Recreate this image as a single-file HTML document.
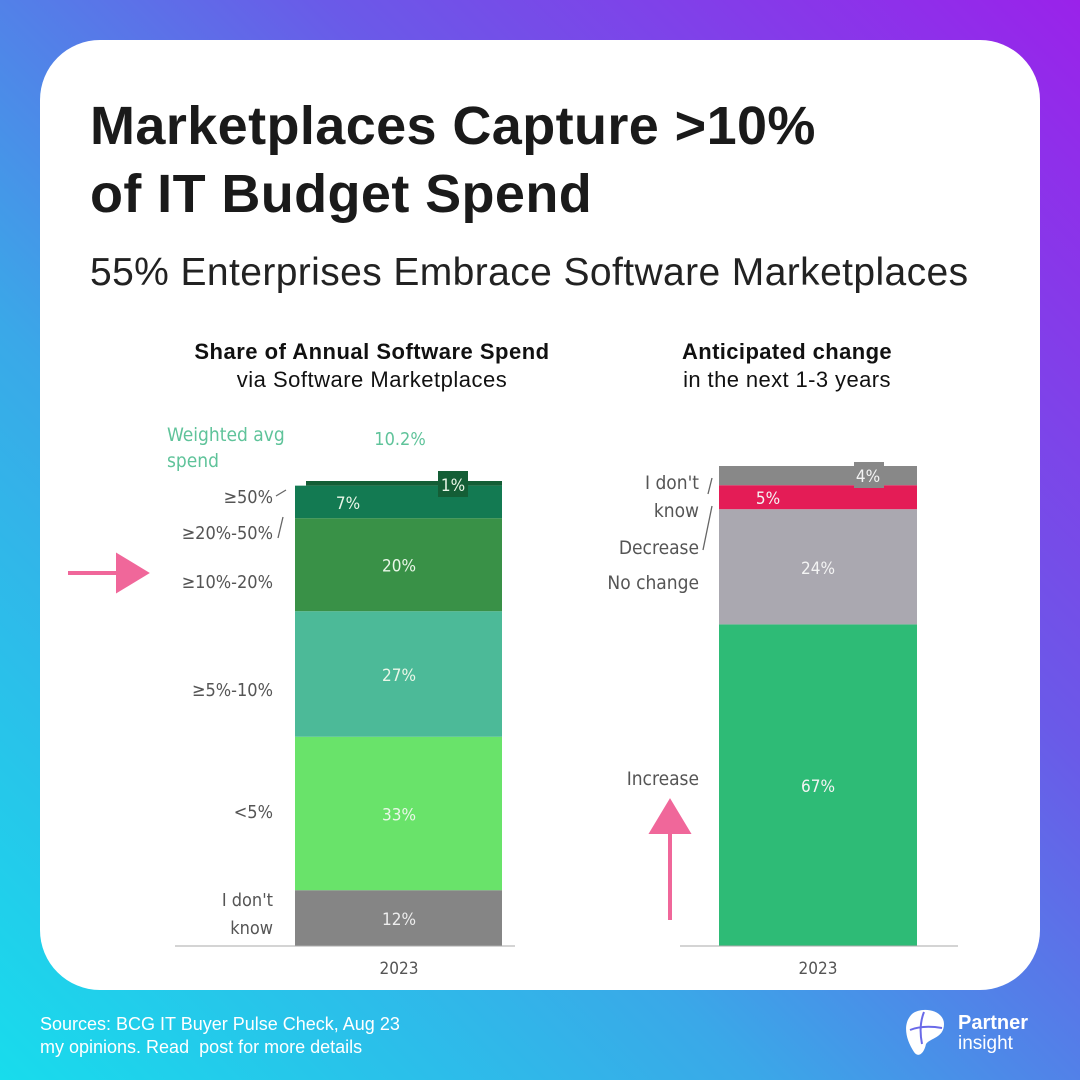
<!DOCTYPE html>
<html><head><meta charset="utf-8"><style>
body{margin:0;width:1080px;height:1080px;overflow:hidden;font-family:"Liberation Sans",sans-serif;}
#bg{position:absolute;left:0;top:0;width:1080px;height:1080px;background:linear-gradient(45deg,#18dcec 0%,#3aa8e8 35%,#6a5ae8 65%,#9a22ea 100%);}
#card{position:absolute;left:40px;top:40px;width:1000px;height:950px;background:#fff;border-radius:60px;}
.t{position:absolute;white-space:nowrap;}
</style></head><body>
<div id="bg"></div>
<div id="card"></div>
<div class="t" style="left:90px;top:92px;font-size:54px;letter-spacing:0.4px;font-weight:bold;line-height:68px;color:#1a1a1a;">Marketplaces Capture &gt;10%<br>of IT Budget Spend</div>
<div class="t" style="left:90px;top:251px;font-size:39px;letter-spacing:0.4px;color:#222;">55% Enterprises Embrace Software Marketplaces</div>
<div class="t" style="left:372px;top:338px;transform:translateX(-50%);text-align:center;font-size:22px;letter-spacing:0.5px;line-height:28px;color:#111;"><b>Share of Annual Software Spend</b><br>via Software Marketplaces</div>
<div class="t" style="left:787px;top:338px;transform:translateX(-50%);text-align:center;font-size:22px;letter-spacing:0.4px;line-height:28px;color:#111;"><b>Anticipated change</b><br>in the next 1-3 years</div>
<svg id="chart" width="1080" height="1080" style="position:absolute;left:0;top:0"></svg>
<div class="t" style="left:40px;top:1013px;font-size:18px;line-height:23px;color:#fff;">Sources: BCG IT Buyer Pulse Check, Aug 23<br>my opinions. Read&nbsp; post for more details</div>
<svg style="position:absolute;left:904px;top:1008px" width="44" height="52"><path d="M8 6 C18 -2 40 2 40 16 C40 30 26 30 22 36 C20 46 14 50 10 44 C2 32 -2 16 8 6Z" fill="#fff"/><path d="M6 22 C16 18 26 18 38 20 M20 4 C16 14 16 26 18 36" stroke="#6a6ae8" stroke-width="2" fill="none"/></svg>
<div class="t" style="left:958px;top:1013px;font-size:20px;line-height:20px;color:#fff;font-weight:bold;">Partner<br><span style="font-weight:normal;font-size:19px;">insight</span></div>
<script>
const leftCats=["I don't know","<5%","≥5%-10%","≥10%-20%","≥20%-50%","≥50%"];
const leftVals=[12,33,27,20,7,1];
const leftColors=["#858585","#69e36a","#4cba98","#399147","#137a52","#145e36"];
const rightCats=["Increase","No change","Decrease","I don't know"];
const rightVals=[67,24,5,4];
const rightColors=["#2ebb76","#aaa8b0","#e41c56","#888888"];
const yearLabel="2023";
const svg=document.getElementById('chart');
const NS="http://www.w3.org/2000/svg";
const FF='DejaVu Sans Condensed, Liberation Sans, sans-serif';
function mk(tag,attrs,text){const e=document.createElementNS(NS,tag);for(const k in attrs)e.setAttribute(k,attrs[k]);if(text!==undefined)e.textContent=text;svg.appendChild(e);return e;}
const base=946;
const yL=v=>v*4.65, yR=v=>v*4.8;
let acc=0;
leftVals.forEach((v,i)=>{
  const h=yL(v),y=base-yL(acc)-h;
  const x=i===5?306:295,w=i===5?196:207;
  const r=mk('rect',{x:x,y:y,width:w,height:h,fill:leftColors[i]});
  
  
  const tx=i===4?348:(i===5?453:399), ty=i===4?y+h/2+7:(i===5?y+10:y+h/2+7);
  if(i===5){const b=mk('rect',{x:438,y:y-10,width:30,height:26,fill:"#145e36"});}
  const t=mk('text',{x:tx,y:ty,'text-anchor':'middle','font-size':17,fill:i===0?'#eee':'#eaf7e8','font-family':FF},v+'%');
  
  
  acc+=v;
});
const lc=[["I don't",900],["know",928],["<5%",812],["≥5%-10%",690],["≥10%-20%",582],["≥20%-50%",533],["≥50%",497]];
lc.forEach(([s,y])=>{const t=mk('text',{x:273,y:y+6,'text-anchor':'end','font-size':18,fill:'#555','font-family':FF},s);});
mk('path',{d:"M276 496 L286 490 M278 538 L283 517",stroke:'#666','stroke-width':1.3,fill:'none'});
let t1=mk('text',{x:167,y:441,'font-size':19,fill:'#5fc39a','font-family':FF},'Weighted avg');
mk('text',{x:167,y:467,'font-size':19,fill:'#5fc39a','font-family':FF},'spend');
let t2=mk('text',{x:400,y:445,'text-anchor':'middle','font-size':18,fill:'#5fc39a','font-family':FF},'10.2%');
mk('line',{x1:175,x2:515,y1:946,y2:946,stroke:'#aaa','stroke-width':1});
mk('text',{x:399,y:974,'text-anchor':'middle','font-size':17,fill:'#555','font-family':FF},yearLabel);
acc=0;
rightVals.forEach((v,i)=>{
  const h=yR(v),y=base-yR(acc)-h;
  const r=mk('rect',{x:719,y:y,width:198,height:h,fill:rightColors[i]});
  
  
  let tx=818,ty=y+h/2+7;
  if(i===2){tx=768;}
  if(i===3){tx=868;const b=mk('rect',{x:854,y:y-4,width:30,height:26,fill:'#888'});ty=y+16;}
  const t=mk('text',{x:tx,y:ty,'text-anchor':'middle','font-size':17,fill:'#f4f4f4','font-family':FF},v+'%');
  
  
  acc+=v;
});
const rc=[["I don't",489],["know",517],["Decrease",554],["No change",589],["Increase",785]];
rc.forEach(([s,y])=>{const t=mk('text',{x:699,y:y,'text-anchor':'end','font-size':19,fill:'#555','font-family':FF},s);});
mk('path',{d:"M708 494 L712 478 M703 550 L712 506",stroke:'#666','stroke-width':1.3,fill:'none'});
mk('line',{x1:680,x2:958,y1:946,y2:946,stroke:'#aaa','stroke-width':1});
mk('text',{x:818,y:974,'text-anchor':'middle','font-size':17,fill:'#555','font-family':FF},yearLabel);
const a1=mk('path',{d:"M68 573 L118 573 L118 556 L146 573 L118 590 L118 573Z",fill:'#f0679a',stroke:'#f0679a','stroke-width':4});

const a2=mk('path',{d:"M670 920 L670 832 L652 832 L670 802 L688 832 L670 832Z",fill:'#f0679a',stroke:'#f0679a','stroke-width':4});

</script>
</body></html>
